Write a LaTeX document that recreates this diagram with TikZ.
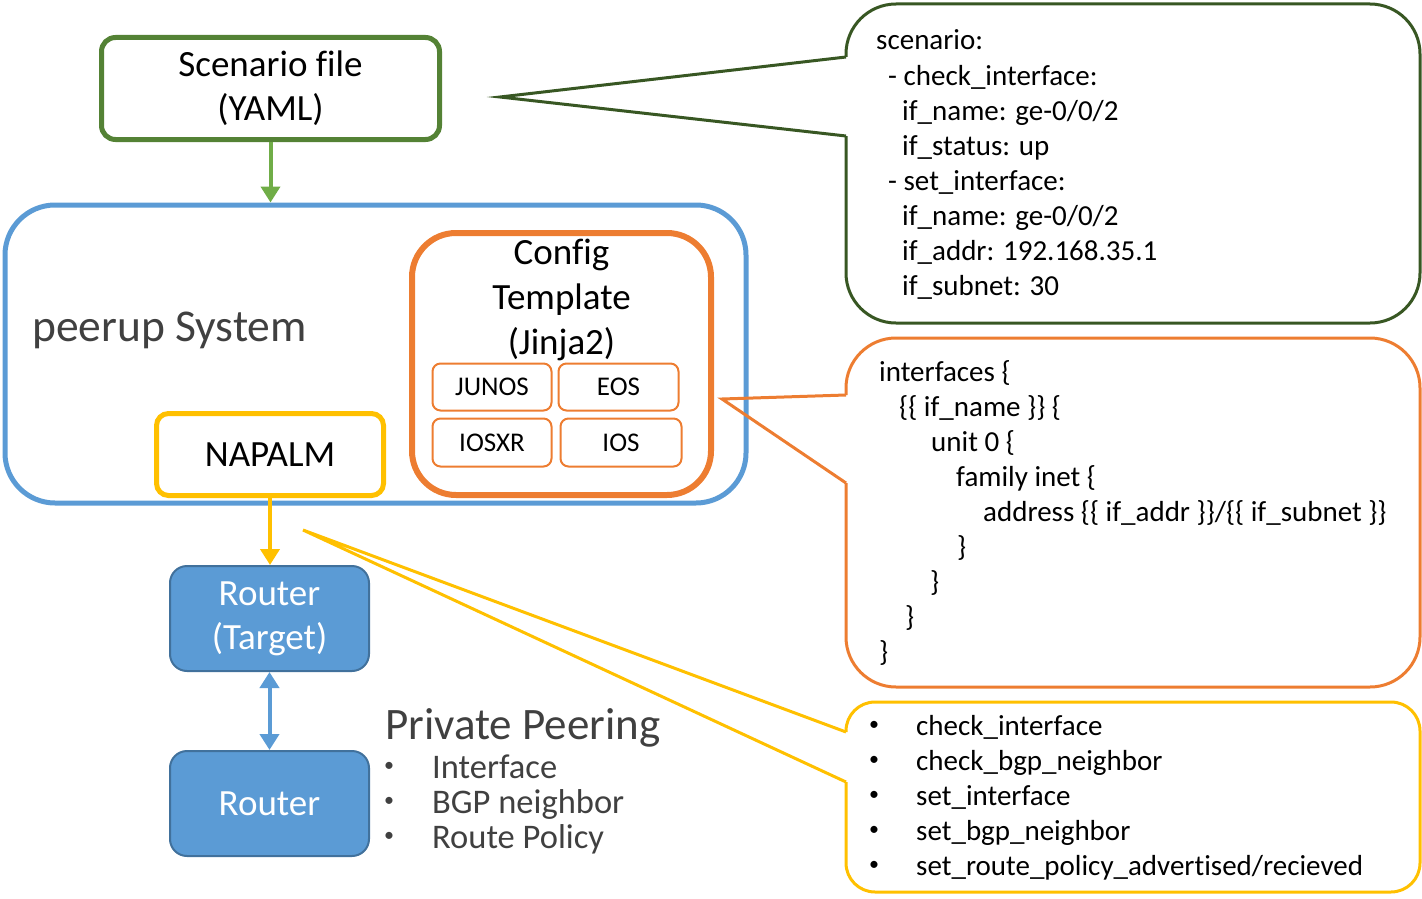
\documentclass[tikz,border=0pt]{standalone}
\usepackage{fontspec}
\setmainfont[Ligatures=NoCommon]{Carlito}
\usetikzlibrary{arrows.meta}
\definecolor{gbox}{HTML}{548235}
\definecolor{garrow}{HTML}{70AD47}
\definecolor{gcall}{HTML}{385723}
\definecolor{bl}{HTML}{5B9BD5}
\definecolor{bldark}{HTML}{41719C}
\definecolor{org}{HTML}{ED7D31}
\definecolor{yel}{HTML}{FFC000}
\definecolor{gr}{HTML}{404040}
\begin{document}
\begin{tikzpicture}[x=1pt,y=-1pt,
  box/.style={draw, inner sep=0pt, align=center},
  bigtxt/.style={font=\fontsize{37}{44}\selectfont},
  codetxt/.style={font=\fontsize{29}{35}\selectfont, anchor=base west, inner sep=0pt},
  bul/.style={font=\fontsize{20}{24}\selectfont, anchor=center, inner sep=0pt},
  ostyle/.style={box, draw=org, line width=2pt, rounded corners=8pt, minimum height=47pt, font=\fontsize{27}{32}\selectfont},
  router/.style={box, draw=bldark, fill=bl, line width=2pt, rounded corners=17pt, minimum width=199pt, minimum height=105pt, text=white, bigtxt},
  tip/.tip={Triangle[width=19pt,length=16pt]},
  arr/.style={line width=4pt, -tip},
  callout/.style={line width=3pt, line join=miter}
]
\useasboundingbox (0,0) rectangle (1422,899);

% Scenario file
\node[box, draw=gbox, line width=5pt, rounded corners=14pt, minimum width=338pt, minimum height=102pt, bigtxt] (scen) at (270.5,88.5) {Scenario file\\(YAML)};

% peerup System
\node[box, draw=bl, line width=5pt, rounded corners=50pt, minimum width=741pt, minimum height=298pt] (sys) at (375.5,354) {};
\node[anchor=base west, inner sep=0pt, text=gr, font=\fontsize{45.5}{52}\selectfont] (sysl) at (32,341) {peerup System};

% Config template
\node[box, draw=org, line width=6pt, rounded corners=44pt, minimum width=299pt, minimum height=262pt] (cfg) at (561.5,364) {};
\node[align=center, inner sep=0pt, font=\fontsize{37}{45}\selectfont] (cfgl) at (561.5,300) {Config\\Template\\(Jinja2)};
\node[ostyle, minimum width=119pt] (junos) at (492,387) {JUNOS};
\node[ostyle, minimum width=120pt] (eos) at (618.5,387) {EOS};
\node[ostyle, minimum width=119pt, minimum height=48pt] (iosxr) at (492,442.5) {IOSXR};
\node[ostyle, minimum width=121pt, minimum height=48pt] (ios) at (621,442.5) {IOS};

% NAPALM
\node[box, draw=yel, line width=5pt, rounded corners=12pt, minimum width=227pt, minimum height=82pt, bigtxt] (nap) at (270,454.5) {NAPALM};

% Routers
\node[router] (rt) at (269.5,618.5) {Router\\(Target)};
\node[router] (r2) at (269.5,803.5) {Router};

% Arrows
\draw[arr, garrow] (scen.south) -- (scen.south |- sys.north);
\draw[arr, yel] (nap.south) -- (nap.south |- rt.north);
\draw[line width=4pt, bl, tip-tip] (rt.south) -- (r2.north);

% Private Peering
\node[anchor=base west, inner sep=0pt, text=gr, font=\fontsize{45}{52}\selectfont] (pp) at (385,739) {Private Peering};
\foreach \y/\t [count=\i] in {778/{Interface}, 813/{BGP neighbor}, 848/{Route Policy}} {
  \node[bul, text=gr] (ppb\i) at (389,\y-11) {•};
  \node[anchor=base west, inner sep=0pt, text=gr, font=\fontsize{34.5}{35}\selectfont] (ppt\i) at (432,\y) {\t};
}

% Callout 1 (scenario)
\draw[callout, gcall, rounded corners=50pt] (846,136) -- (846,323) -- (1420,323) -- (1420,4) -- (846,4) -- (846,57);
\draw[callout, gcall] (846,57) -- (500,97) -- (846,136);
\foreach \x/\y/\t [count=\i] in {876/50/{scenario:}, 888/85/{- check\_interface:}, 902/120/{if\_name: ge-0/0/2}, 902/155/{if\_status: up}, 888/190/{- set\_interface:}, 902/225/{if\_name: ge-0/0/2}, 902/260/{if\_addr: 192.168.35.1}, 902/295/{if\_subnet: 30}} {
  \node[codetxt] (ca\i) at (\x,\y) {\t};
}

% Callout 2 (template)
\draw[callout, org, rounded corners=50pt] (846,483) -- (846,687) -- (1420,687) -- (1420,338) -- (846,338) -- (846,395);
\draw[callout, org] (846,395) -- (722,399) -- (846,483);
\foreach \x/\y/\t [count=\i] in {879/381/{interfaces \{}, 899/416/{\{\{ if\_name \}\} \{}, 931/451/{unit 0 \{}, 956/486/{family inet \{}, 983/521/{address \{\{ if\_addr \}\}/\{\{ if\_subnet \}\}}, 957/556/{\}}, 930/591/{\}}, 905/626/{\}}, 879/661/{\}}} {
  \node[codetxt] (cb\i) at (\x,\y) {\t};
}

% Callout 3 (NAPALM functions)
\draw[callout, yel, rounded corners=29pt] (846,782) -- (846,892) -- (1420,892) -- (1420,702) -- (846,702) -- (846,732);
\draw[callout, yel] (846,732) -- (303,530) -- (846,782);
\foreach \y/\t [count=\i] in {735/{check\_interface}, 770/{check\_bgp\_neighbor}, 805/{set\_interface}, 840/{set\_bgp\_neighbor}, 875/{set\_route\_policy\_advertised/recieved}} {
  \node[bul] (cbul\i) at (874,\y-9) {•};
  \node[codetxt] (cc\i) at (916,\y) {\t};
}
\end{tikzpicture}
\end{document}
